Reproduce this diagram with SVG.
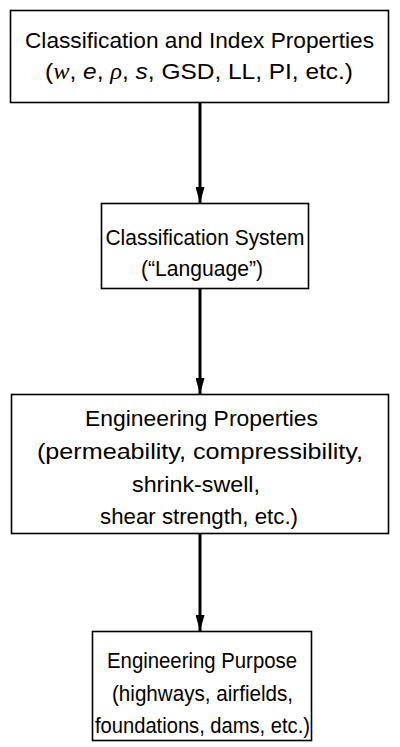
<svg xmlns="http://www.w3.org/2000/svg" width="400" height="747" viewBox="0 0 400 747">
<style>
.box{fill:#fff;stroke:#000;stroke-width:1.6}
.t{font-family:"Liberation Sans",Arial,sans-serif;font-size:22.5px;fill:#000;text-anchor:middle}
.c{stroke:#000;stroke-width:3;fill:none}
.m{font-family:"Liberation Serif",serif;font-style:italic}
.i{font-style:italic}
</style>
<defs>
<marker id="ah" viewBox="0 0 10 10" refX="10" refY="5" markerWidth="5.3" markerHeight="3" markerUnits="strokeWidth" orient="auto" preserveAspectRatio="none">
<path d="M0,0 L10,5 L0,10 Z" fill="#000"/>
</marker>
</defs>
<rect width="400" height="747" fill="#fff"/>
<g id="connectors">
<line class="c" x1="200" y1="103" x2="200" y2="203" marker-end="url(#ah)"/>
<line class="c" x1="200" y1="289" x2="200" y2="394" marker-end="url(#ah)"/>
<line class="c" x1="200" y1="534" x2="200" y2="631" marker-end="url(#ah)"/>
</g>
<g id="n1">
<rect class="box" x="10.5" y="10.5" width="378" height="92"/>
<text class="t" x="199.5" y="48" textLength="349" lengthAdjust="spacingAndGlyphs">Classification and Index Properties</text>
<text class="t" x="199" y="79" textLength="308" lengthAdjust="spacingAndGlyphs">(<tspan class="m">w</tspan>, <tspan class="i">e</tspan>, <tspan class="m">ρ</tspan>, <tspan class="i">s</tspan>, GSD, LL, PI, etc.)</text>
</g>
<g id="n2">
<rect class="box" x="101.5" y="203.5" width="207" height="85"/>
<text class="t" x="205" y="245" textLength="199" lengthAdjust="spacingAndGlyphs">Classification System</text>
<text class="t" x="202" y="276" textLength="122" lengthAdjust="spacingAndGlyphs">(“Language”)</text>
</g>
<g id="n3">
<rect class="box" x="11.5" y="394.5" width="377" height="139"/>
<text class="t" x="201.5" y="426" textLength="233" lengthAdjust="spacingAndGlyphs">Engineering Properties</text>
<text class="t" x="200" y="459" textLength="326" lengthAdjust="spacingAndGlyphs">(permeability, compressibility,</text>
<text class="t" x="196" y="492" textLength="128" lengthAdjust="spacingAndGlyphs">shrink-swell,</text>
<text class="t" x="199" y="524" textLength="198" lengthAdjust="spacingAndGlyphs">shear strength, etc.)</text>
</g>
<g id="n4">
<rect class="box" x="92.5" y="631.5" width="219" height="109"/>
<text class="t" x="202" y="668" textLength="190" lengthAdjust="spacingAndGlyphs">Engineering Purpose</text>
<text class="t" x="202.5" y="701" textLength="181" lengthAdjust="spacingAndGlyphs">(highways, airfields,</text>
<text class="t" x="202.5" y="733" textLength="215" lengthAdjust="spacingAndGlyphs">foundations, dams, etc.)</text>
</g>
</svg>
